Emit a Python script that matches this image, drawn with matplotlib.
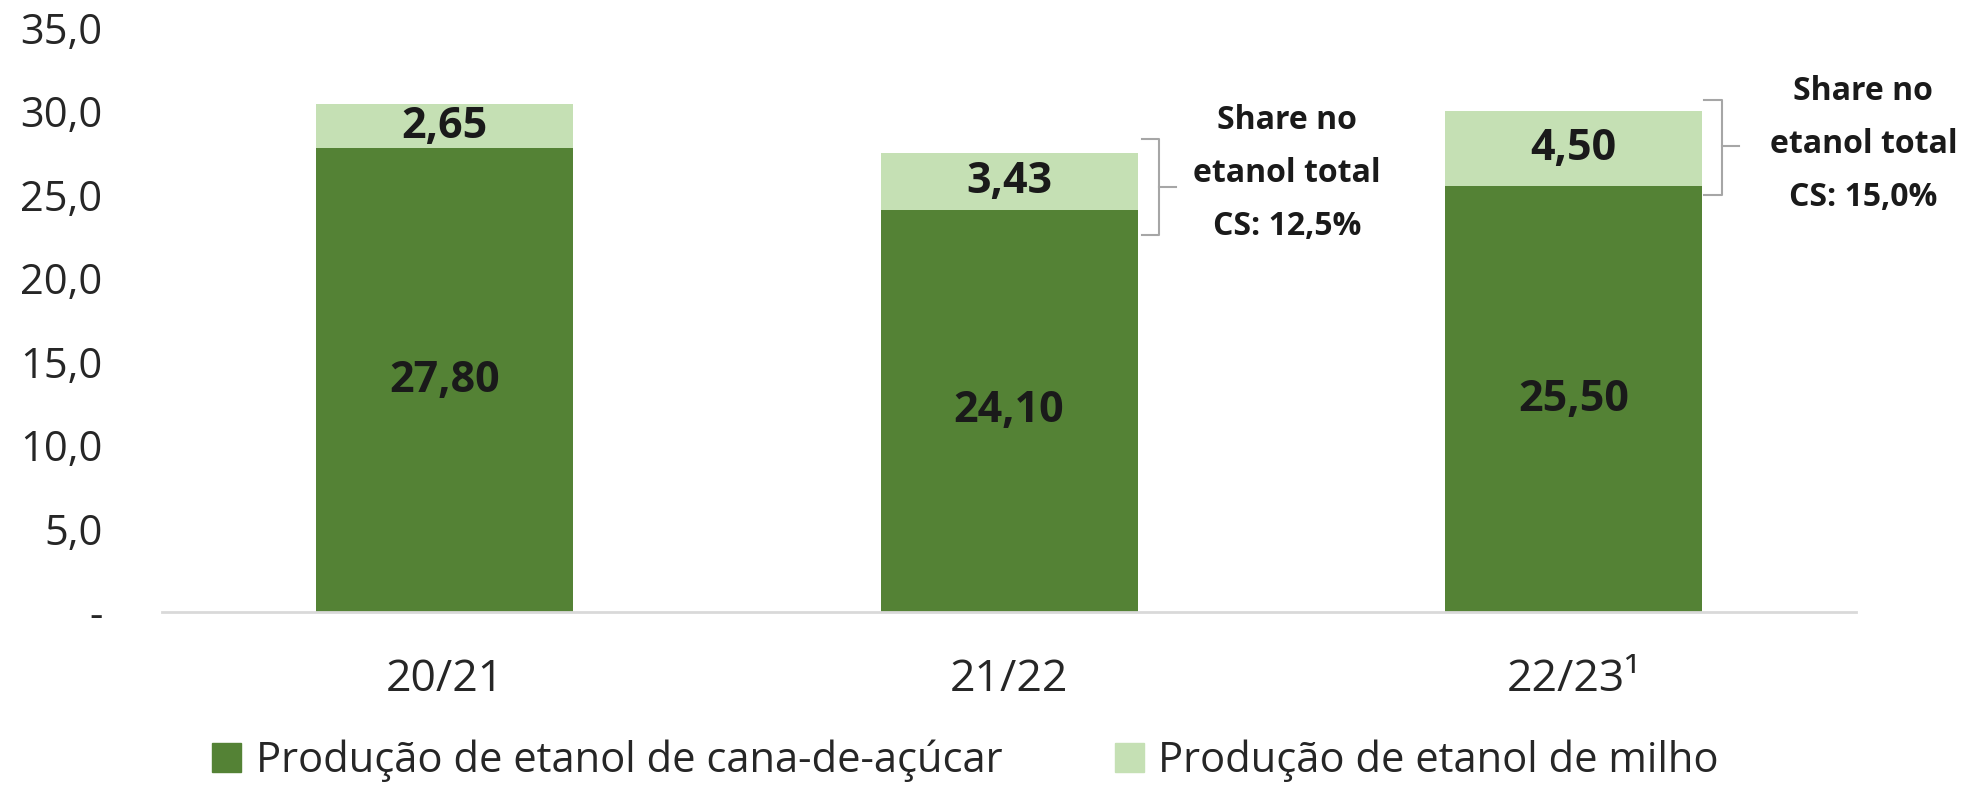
import numpy as np
import matplotlib
matplotlib.use("Agg")
import matplotlib.pyplot as plt
from matplotlib.patches import Patch

# dados
safras = ["20/21", "21/22", "22/23\u00b9"]
etanol_cana = [27.80, 24.10, 25.50]
etanol_milho = [2.65, 3.43, 4.50]
rotulo_cana = "Produção de etanol de cana-de-açúcar"
rotulo_milho = "Produção de etanol de milho"
share_textos = ["Share no\netanol total\nCS: 12,5%", "Share no\netanol total\nCS: 15,0%"]
yticks = [0, 5, 10, 15, 20, 25, 30, 35]

cor_cana = "#548235"
cor_milho = "#C5E0B4"
cor_texto = "#1a1a1a"

plt.rcParams['font.family'] = ['Open Sans', 'DejaVu Sans']

fig = plt.figure(figsize=(19.72, 7.9), dpi=100)
ax = fig.add_axes([0.0822, 0.2253, 0.859, 0.7393])

x = np.arange(len(safras))
largura = 0.455
b1 = ax.bar(x, etanol_cana, largura, color=cor_cana)
b2 = ax.bar(x, etanol_milho, largura, bottom=etanol_cana, color=cor_milho)

def fmt(v):
    return f"{v:.2f}".replace(".", ",")

for i in range(len(safras)):
    ax.text(x[i], etanol_cana[i] / 2, fmt(etanol_cana[i]), ha="center", va="center",
            fontsize=31, fontweight="bold", color=cor_texto)
    ax.text(x[i], etanol_cana[i] + etanol_milho[i] / 2, fmt(etanol_milho[i]), ha="center",
            va="center", fontsize=31, fontweight="bold", color=cor_texto)

# chaves com o share (posicoes de layout)
chaves = [(1.2355, 1.266, 1.296, 22.6, 28.36, 25.46, 1.492, 26.3),
          (2.231, 2.262, 2.293, 25.0, 30.7, 27.9, 2.513, 28.0)]
for (xa, xb, xc, y0, y1, ym, xt, yt), txt in zip(chaves, share_textos):
    ax.plot([xa, xb, xb, xa], [y1, y1, y0, y0], color="#A6A6A6", lw=1.5, clip_on=False)
    ax.plot([xb, xc], [ym, ym], color="#A6A6A6", lw=1.5, clip_on=False)
    ax.text(xt, yt, txt, ha="center", va="center", fontsize=23, fontweight="bold",
            color=cor_texto, linespacing=1.8, clip_on=False)

ax.set_xlim(-0.5, 2.5)
ax.set_ylim(0, 35)
ax.set_yticks(yticks)
ax.set_yticklabels(["-" if t == 0 else f"{t:.1f}".replace(".", ",") for t in yticks])
ax.set_xticks(x)
ax.set_xticklabels(safras)
ax.tick_params(axis="y", length=0, pad=43, labelsize=30, labelcolor="#262626")
ax.tick_params(axis="x", length=0, pad=33, labelsize=32, labelcolor="#262626")
for s in ["top", "right", "left"]:
    ax.spines[s].set_visible(False)
ax.spines["bottom"].set_color("#D9D9D9")
ax.spines["bottom"].set_linewidth(2)

handles = [Patch(color=cor_cana, label=rotulo_cana), Patch(color=cor_milho, label=rotulo_milho)]
fig.legend(handles=handles, loc="center left", bbox_to_anchor=(0.1075, 0.037), ncol=2,
           frameon=False, borderpad=0, borderaxespad=0, fontsize=30, handlelength=0.7,
           handleheight=0.7, handletextpad=0.35, columnspacing=2.7, labelcolor="#262626")

fig.savefig("out.png", dpi=100)
